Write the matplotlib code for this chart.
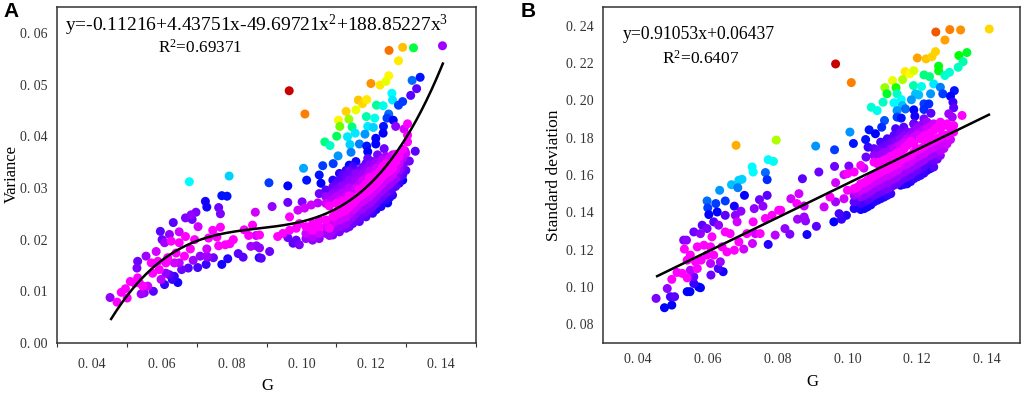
import numpy as np
import matplotlib
matplotlib.use('Agg')
import matplotlib.pyplot as plt
from matplotlib.colors import LinearSegmentedColormap

plt.rcParams['font.family'] = ['Liberation Serif', 'DejaVu Serif']
plt.rcParams['mathtext.default'] = 'regular'

# panel A, G / variance / colour hue in degrees
a_g = [.0452,.0472,.0484,.0501,.0496,.0510,.0522,.0531,.0536,.0546,
       .0541,.0550,.0560,.0576,.0529,.0531,.0555,.0584,.0570,.0589,
       .0574,.0593,.0612,.0598,.0608,.0622,.0636,.0646,.0630,.0612,
       .0596,.0601,.0622,.0608,.0627,.0650,.0633,.0668,.0684,.0698,
       .0687,.0725,.0729,.0763,.0768,.0772,.0787,.0679,.0793,.0704,
       .0668,.0650,.0694,.0682,.0746,.0734,.0768,.0758,.0763,.0782,
       .0795,.0805,.0729,.0729,.0710,.0731,.0748,.0727,.0772,.0789,
       .0819,.0833,.0703,.0676,.0657,.0690,.0665,.0641,.0636,.0650,
       .0617,.0836,.0849,.0860,.0868,.0870,.0855,.0871,.0879]
a_var = [.0088,.0079,.0098,.0087,.0105,.0119,.0116,.0126,.0116,.0110,
         .0095,.0097,.0110,.0100,.0145,.0158,.0168,.0177,.0155,.0158,
         .0135,.0142,.0155,.0123,.0113,.0132,.0129,.0117,.0123,.0135,
         .0216,.0200,.0210,.0194,.0197,.0215,.0233,.0242,.0248,.0253,
         .0239,.0274,.0263,.0262,.0250,.0285,.0284,.0312,.0323,.0225,
         .0206,.0194,.0200,.0182,.0218,.0203,.0224,.0205,.0188,.0190,
         .0192,.0200,.0182,.0168,.0168,.0166,.0165,.0152,.0152,.0163,
         .0173,.0166,.0146,.0145,.0142,.0160,.0168,.0174,.0155,.0155,
         .0165,.0219,.0208,.0228,.0253,.0208,.0187,.0188,.0165]
a_hue = [280,300,300,300,300,300,300,300,300,300,
         285,280,295,265,275,270,285,295,300,300,
         300,300,300,290,255,265,255,245,255,280,
         265,270,280,285,300,295,265,275,280,275,
         270,245,245,270,275,235,235,180,190,295,
         300,300,300,300,300,300,300,300,300,300,
         300,300,295,285,280,275,270,255,245,250,
         265,265,260,265,270,285,300,300,295,290,
         300,300,300,300,295,295,285,280,250]

# panel A, scattered points above the main cloud
a_top_g = [.0965,.1010,.1251,.1290,.1321,.1404,.1278,.1250,.1242,.1225,
           .1199,.1317,.1340,.1330,.1313,.1290,.1278,.1259,.1261,.1163,
           .1187,.1175,.1215,.1234,.1128,.1156,.1106,.1136,.1110,.1145,
           .1186,.1210,.1101,.1067,.1082,.1132,.1154,.1190,.1206,.1182,
           .1139,.1166,.1142,.1105,.1250,.1245,.1263,.1235,.1234,.1213,
           .1213,.1187,.1190,.1237,.1218,.1190,.1270,.1294,.1304,.1304,
           .1304,.1296,.1326,.1309,.1006,.1015,.0961,.0907,.1051,.1061,
           .1091,.1137,.1156,.1056,.1290,.1247,.1228,.0961,.1002,.0916,
           .1051,.0966]
a_top_var = [.0488,.0443,.0566,.0572,.0571,.0575,.0546,.0517,.0506,.0499,
             .0502,.0508,.0514,.0492,.0479,.0467,.0460,.0483,.0470,.0470,
             .0471,.0463,.0460,.0459,.0448,.0451,.0431,.0433,.0419,.0418,
             .0438,.0435,.0400,.0389,.0382,.0399,.0406,.0419,.0417,.0404,
             .0384,.0385,.0369,.0362,.0443,.0435,.0431,.0419,.0406,.0396,
             .0385,.0381,.0370,.0376,.0364,.0357,.0419,.0414,.0424,.0402,
             .0389,.0372,.0371,.0352,.0338,.0315,.0304,.0310,.0325,.0343,
             .0347,.0344,.0351,.0309,.0315,.0271,.0264,.0272,.0273,.0264,
             .0289,.0244]
a_top_hue = [0,30,28,45,135,285,55,58,65,55,
             35,215,235,265,265,225,225,180,185,47,
             55,52,155,175,50,65,58,85,95,150,
             160,175,140,150,165,185,185,185,190,205,
             190,210,210,205,215,225,240,235,240,240,
             240,235,240,270,275,270,280,295,300,300,
             300,290,265,270,200,235,240,225,235,225,
             225,240,245,240,240,240,250,270,275,280,
             270,300]

# panel A, dense cloud read column by column
a_up_g = [.1070]*3 + [.1090]*4 + [.1109]*6 + [.1128]*6 + [.1147]*5 + [.1166]*4 + [.1185]*4 + [.1204]*4 + [.1223]*3 + [.1242]*3 + [.1261]*2
a_up_var = [.0296,.0283,.0270, .0315,.0302,.0290,.0277, .0328,.0315,.0302,.0290,.0277,.0264,
            .0334,.0321,.0308,.0296,.0283,.0270, .0341,.0321,.0308,.0296,.0283, .0334,.0321,.0308,.0296,
            .0347,.0334,.0321,.0308, .0351,.0338,.0325,.0315, .0357,.0344,.0331, .0361,.0347,.0334, .0364,.0351]
a_up_hue = [265,285,295, 250,270,280,290, 250,265,275,285,295,300,
            255,270,275,285,295,300, 260,275,280,290,300, 270,280,290,300,
            265,280,290,300, 270,285,295,300, 275,290,300, 285,300,300, 295,300]

a_low_g = [.1013]*3 + [.1032]*4 + [.1051]*4 + [.1070]*3 + [.1090]*4 + [.1109]*4 + [.1128]*4 + [.1147]*4 + [.1166]*5 + [.1185]*5 + [.1204]*5 + [.1223]*5 + [.1242]*5 + [.1261]*5 + [.1280]*5 + [.1299]*3
a_low_var = [.0225,.0212,.0202, .0231,.0218,.0206,.0199, .0238,.0225,.0212,.0202, .0238,.0225,.0212,
             .0244,.0231,.0218,.0209, .0251,.0238,.0225,.0215, .0257,.0244,.0231,.0222, .0270,.0257,.0244,.0231,
             .0283,.0270,.0257,.0244,.0235, .0293,.0280,.0267,.0254,.0244, .0302,.0290,.0277,.0264,.0251,
             .0315,.0302,.0290,.0277,.0264, .0328,.0315,.0302,.0290,.0277, .0338,.0325,.0312,.0299,.0286,
             .0361,.0347,.0334,.0321,.0309, .0367,.0351,.0334]
a_low_hue = [300,295,285, 300,300,290,280, 300,300,295,280, 300,295,285,
             300,295,285,275, 300,295,285,275, 300,295,285,275, 300,295,285,270,
             300,295,285,270,265, 300,295,285,275,265, 300,295,285,275,255,
             300,295,285,270,250, 300,295,285,275,255, 300,295,280,265,255,
             300,295,285,270,255, 295,275,265]

a_mid_g = [.1080]*4 + [.1100]*7 + [.1118]*7 + [.1137]*8 + [.1156]*7 + [.1175]*8 + [.1195]*7 + [.1214]*8 + [.1232]*6 + [.1252]*7 + [.1270]*5 + [.1290]*4
a_mid_var = [.0283,.0265,.0222,.0208, .0309,.0296,.0283,.0270,.0250,.0237,.0224,
             .0325,.0305,.0290,.0275,.0254,.0241,.0226, .0332,.0315,.0300,.0285,.0264,.0250,.0237,.0225,
             .0328,.0315,.0300,.0276,.0263,.0250,.0238, .0340,.0327,.0314,.0300,.0287,.0274,.0260,.0248,
             .0345,.0332,.0320,.0296,.0283,.0270,.0258, .0350,.0338,.0325,.0308,.0296,.0283,.0270,.0258,
             .0355,.0340,.0322,.0308,.0296,.0283, .0358,.0345,.0332,.0320,.0306,.0293,.0281,
             .0365,.0350,.0335,.0318,.0303, .0375,.0358,.0340,.0325]
a_mid_hue = [285,300,300,285, 265,275,290,300,300,295,285,
             265,280,290,300,300,290,280, 270,280,290,300,300,290,280,270,
             280,285,295,300,295,280,270, 275,285,295,300,300,295,285,270,
             280,290,300,300,295,285,270, 285,295,300,300,295,285,270,250,
             290,300,300,295,285,270, 295,300,300,295,285,265,250,
             300,300,295,285,265, 300,290,275,265]

a_tail_g = [.0961,.0976,.0994,.0985,.0932,.0947,.0966,.0985,.0994,.0990,.1009,.1028,.1047,.0880,.0880,.0885,.0909]
a_tail_var = [.0204,.0193,.0190,.0199,.0206,.0212,.0218,.0222,.0231,.0257,.0261,.0267,.0271,.0209,.0184,.0164,.0177]
a_tail_hue = [270,265,275,268,300,300,300,300,300,295,295,295,290,300,280,265,270]

# panel B, G / standard deviation / colour hue
b_g = [.0452,.0476,.0497,.0493,.0505,.0484,.0497,.0541,.0549,.0574,
       .0579,.0560,.0560,.0512,.0527,.0541,.0550,.0570,.0565,.0541,
       .0550,.0581,.0598,.0608,.0609,.0630,.0644,.0636,.0617,.0655,
       .0676,.0703,.0689,.0641,.0608,.0589,.0570,.0533,.0539,.0531,
       .0560,.0584,.0598,.0579,.0617,.0631,.0650,.0664,.0612,.0728,
       .0736,.0750,.0712,.0730,.0684,.0679,.0695,.0650,.0676,.0650,
       .0623,.0627,.0598,.0600,.0603,.0634,.0668,.0686,.0689,.0698,
       .0705,.0681,.0727,.0730,.0765,.0770,.0773,.0788,.0796,.0770,
       .0748,.0733,.0758,.0765,.0784,.0803,.0773,.0793]
b_sd = [.0939,.0889,.0903,.0948,.0948,.0992,.1041,.0975,.0975,.1000,
        .0996,.1019,.1055,.1078,.1073,.1049,.1090,.1099,.1135,.1144,
        .1171,.1144,.1171,.1126,.1064,.1099,.1082,.1135,.1171,.1188,
        .1197,.1203,.1242,.1215,.1215,.1224,.1215,.1203,.1251,.1251,
        .1295,.1331,.1313,.1286,.1349,.1331,.1295,.1286,.1269,.1233,
        .1286,.1286,.1286,.1349,.1349,.1384,.1406,.1384,.1433,.1461,
        .1447,.1402,.1461,.1424,.1388,.1518,.1548,.1532,.1572,.1577,
        .1491,.1759,.1643,.1616,.1613,.1575,.1682,.1673,.1787,.1491,
        .1468,.1420,.1433,.1367,.1384,.1411,.1228,.1278]
b_hue = [275,240,240,260,265,280,300,240,240,240,
         240,255,270,300,300,300,290,300,300,300,
         300,300,300,290,270,260,245,285,300,300,
         300,295,300,300,300,300,300,300,280,275,
         270,265,275,280,265,280,300,300,300,295,
         295,300,300,300,295,280,280,265,245,225,
         225,240,215,225,240,205,195,210,190,190,
         240,42,180,180,215,230,180,175,80,265,
         270,280,280,300,300,300,250,290]

b_top_g = [.0966,.1011,.1253,.1293,.1324,.1406,.1279,.1252,.1242,.1225,
           .1200,.1165,.1190,.1179,.1129,.1158,.1107,.1139,.1113,.1261,
           .1261,.1319,.1342,.1331,.1317,.1292,.1279,.1219,.1235,.1189,
           .1212,.1247,.1142,.1102,.1068,.1085,.1133,.1154,.1157,.1142,
           .1195,.1204,.1238,.1266,.1273,.1183,.1166,.1306,.1295,.1302,
           .1304,.1219,.1233,.1219,.1190,.1193,.1142,.1154,.1239,.1219,
           .1190,.1290,.1300,.1328,.1106,.1098,.1062,.1052,.1080,.1007,
           .1017,.0909,.0963,.1138,.1161,.1059,.1053,.1004,.0963,.0918,
           .0871,.0990,.0966,.1047,.0861,.0838,.0855,.0876,.0809,.0933,
           .0950,.0990,.0966,.0857,.0876,.0880,.0821,.0835,.0884,.0911,
           .0961,.0976,.0997,.0983]
b_top_sd = [.2195,.2095,.2366,.2379,.2377,.2382,.2323,.2261,.2234,.2222,
            .2227,.2154,.2159,.2142,.2106,.2111,.2068,.2068,.2035,.2183,
            .2158,.2240,.2256,.2207,.2177,.2150,.2133,.2136,.2127,.2079,
            .2074,.2088,.2035,.1990,.1963,.1945,.1987,.2004,.1972,.1945,
            .2035,.2029,.2035,.2070,.2035,.2003,.1954,.2052,.2022,.1990,
            .1960,.1981,.1981,.1951,.1949,.1915,.1910,.1905,.1931,.1901,
            .1874,.1928,.1910,.1919,.1892,.1856,.1842,.1790,.1821,.1830,
            .1769,.1755,.1735,.1848,.1856,.1749,.1696,.1648,.1646,.1616,
            .1580,.1602,.1559,.1637,.1500,.1473,.1447,.1434,.1411,.1429,
            .1482,.1473,.1456,.1363,.1375,.1354,.1313,.1283,.1281,.1325,
            .1349,.1393,.1384,.1363]
b_top_hue = [0,30,22,30,35,52,38,50,50,47,
             38,55,70,60,65,80,85,115,130,125,
             125,120,130,160,165,170,170,150,150,160,
             175,185,165,165,170,175,180,180,195,205,
             195,195,205,210,225,205,215,235,240,255,
             265,225,230,230,240,245,225,235,265,275,
             270,285,285,300,220,230,235,235,240,205,
             235,205,225,260,265,255,270,275,270,270,
             265,295,295,295,295,295,300,295,300,295,
             300,295,285,285,285,280,280,275,245,265,
             240,260,250,255]

b_up_g = [.1000,.1019,.1038] + [.1076]*3 + [.1095]*4 + [.1114]*4 + [.1133]*4 + [.1152]*4 + [.1171]*3 + [.1190]*4 + [.1209]*3 + [.1228]*3 + [.1247]*2 + [.1266]*2 + [.1285,.1304]
b_up_sd = [.1607,.1616,.1651, .1741,.1705,.1669, .1776,.1741,.1705,.1669, .1794,.1758,.1723,.1687,
           .1812,.1776,.1741,.1705, .1830,.1794,.1758,.1723, .1830,.1794,.1758, .1874,.1838,.1803,.1767,
           .1865,.1830,.1794, .1883,.1848,.1812, .1874,.1838, .1883,.1848, .1874,.1865]
b_up_hue = [300,300,300, 265,280,300, 260,270,285,300, 260,270,285,300,
            265,275,290,300, 270,280,295,300, 275,290,300, 270,280,295,300,
            280,290,300, 285,295,300, 295,300, 300,300, 300,300]

b_low_g = [.1000] + [.1019]*4 + [.1038]*5 + [.1057]*5 + [.1076]*5 + [.1095]*5 + [.1114]*5 + [.1133]*4 + [.1152]*5 + [.1171]*5 + [.1190]*5 + [.1209]*5 + [.1228]*5 + [.1247]*5 + [.1266]*4 + [.1285]*2 + [.1304]
b_low_sd = [.1518, .1527,.1491,.1456,.1420, .1553,.1518,.1482,.1447,.1415, .1571,.1536,.1500,.1465,.1429,
            .1598,.1562,.1527,.1491,.1456, .1616,.1580,.1545,.1509,.1473, .1634,.1598,.1562,.1527,.1491,
            .1651,.1616,.1580,.1545, .1678,.1643,.1607,.1571,.1545, .1696,.1660,.1625,.1589,.1553,
            .1723,.1687,.1651,.1616,.1580, .1741,.1705,.1669,.1634,.1598, .1767,.1732,.1696,.1660,.1625,
            .1785,.1749,.1714,.1678,.1643, .1803,.1767,.1732,.1705, .1812,.1767, .1830]
b_low_hue = [300, 300,285,265,250, 300,295,280,260,245, 300,295,280,265,245,
             300,295,285,270,250, 300,295,285,270,250, 300,295,285,275,255,
             300,295,285,270, 300,295,285,270,245, 300,295,285,270,250,
             300,295,285,270,255, 300,295,285,265,255, 300,295,285,265,250,
             300,295,285,270,265, 300,295,290,280, 300,295, 300]

b_mid_g = [.1029]*4 + [.1048]*5 + [.1067]*5 + [.1086]*7 + [.1105]*8 + [.1124]*8 + [.1143]*7 + [.1162]*8 + [.1181]*7 + [.1200]*7 + [.1219]*7 + [.1238]*7 + [.1257]*5 + [.1276]*4 + [.1295]*2
b_mid_sd = [.1535,.1505,.1470,.1435, .1560,.1525,.1490,.1455,.1420, .1585,.1550,.1515,.1478,.1440,
            .1660,.1605,.1570,.1535,.1500,.1465,.1730, .1760,.1720,.1680,.1625,.1590,.1555,.1518,.1482,
            .1775,.1740,.1700,.1640,.1606,.1572,.1535,.1500, .1790,.1755,.1720,.1660,.1625,.1590,.1555,
            .1810,.1775,.1740,.1690,.1652,.1615,.1580,.1550, .1815,.1780,.1705,.1670,.1635,.1600,.1565,
            .1850,.1815,.1735,.1698,.1660,.1625,.1590, .1845,.1810,.1752,.1715,.1680,.1645,.1610,
            .1860,.1825,.1775,.1740,.1705,.1670,.1635, .1855,.1795,.1758,.1722,.1685,
            .1865,.1815,.1780,.1742, .1850,.1790]
b_mid_hue = [300,290,265,250, 300,295,280,260,245, 300,295,285,265,245,
             300,300,295,285,270,250,275, 265,285,300,300,295,285,270,250,
             270,285,300,300,295,285,270,255, 275,290,300,300,295,285,270,
             280,295,300,300,295,285,265,250, 285,300,300,295,285,270,250,
             285,295,300,295,285,270,255, 290,300,300,295,285,265,255,
             295,300,300,295,285,265,250, 300,300,295,285,270,
             300,300,295,290, 300,295]

# fit lines, coefficients as printed on the chart
a_coef = [188.85227, -49.69721, 4.43751, -0.11216]
b_coef = [0.91053, 0.06437]
fit_range = [0.0455, 0.1405]

x_labels = ['0. 04', '0. 06', '0. 08', '0. 10', '0. 12', '0. 14']
x_ticks = [0.04, 0.06, 0.08, 0.10, 0.12, 0.14]
a_y_ticks = [0.0, 0.01, 0.02, 0.03, 0.04, 0.05, 0.06]
a_y_labels = ['0. 00', '0. 01', '0. 02', '0. 03', '0. 04', '0. 05', '0. 06']
b_y_ticks = [0.08, 0.10, 0.12, 0.14, 0.16, 0.18, 0.20, 0.22, 0.24]
b_y_labels = ['0. 08', '0. 10', '0. 12', '0. 14', '0. 16', '0. 18', '0. 20', '0. 22', '0. 24']

# rainbow that starts from a dark red, hue in degrees; purple kept wide before magenta
rainbow = LinearSegmentedColormap.from_list('rainbow_dark', [
    (0.0, '#c80000'), (30 / 360, '#ff8000'), (60 / 360, '#ffff00'), (120 / 360, '#00ff00'),
    (180 / 360, '#00ffff'), (240 / 360, '#0000ff'), (285 / 360, '#a000ff'), (295 / 360, '#d000ff'),
    (300 / 360, '#ff00ff'), (1.0, '#ff00ff')])


def draw(ax, g, y, hue):
    g, y, hue = np.array(g), np.array(y), np.array(hue)
    order = np.argsort(hue, kind='stable')  # magenta ends up on top
    ax.scatter(g[order], y[order], c=hue[order], cmap=rainbow, vmin=0, vmax=360, s=42, linewidths=0)


def style(ax):
    for s in ax.spines.values():
        s.set_linewidth(1.1)
        s.set_color('#333333')
    ax.set_xticks(x_ticks)
    ax.set_xticklabels(x_labels)
    ax.tick_params(axis='both', labelsize=10, colors='#333333', length=0)
    ax.tick_params(axis='y', pad=7)


W, H = 1024, 393
fig = plt.figure(figsize=(W / 100, H / 100), dpi=100)
ax1 = fig.add_axes([57 / W, (H - 343) / H, 419 / W, 336 / H])
ax2 = fig.add_axes([603 / W, (H - 343) / H, 417 / W, 336 / H])

draw(ax1, a_g + a_top_g + a_up_g + a_low_g + a_mid_g + a_tail_g,
     a_var + a_top_var + a_up_var + a_low_var + a_mid_var + a_tail_var,
     a_hue + a_top_hue + a_up_hue + a_low_hue + a_mid_hue + a_tail_hue)
xs = np.linspace(fit_range[0], fit_range[1], 200)
ax1.plot(xs, np.polyval(a_coef, xs), color='black', lw=1.8)
ax1.set_xlim(0.03, 0.15)
ax1.set_ylim(0, 0.065)
style(ax1)
ax1.tick_params(axis='x', pad=11)
ax1.set_yticks(a_y_ticks)
ax1.set_yticklabels(a_y_labels)
ax1.set_xticks(np.arange(0.03, 0.151, 0.01), minor=True)
ax1.tick_params(axis='x', which='minor', length=3, width=0.8, color='#333333')
ax1.set_xlabel('G', fontsize=12)
ax1.xaxis.set_label_coords((267 - 57) / 419, -0.104)
ax1.set_ylabel('Variance', fontsize=12)
ax1.yaxis.set_label_coords(-0.088, 0.503)
ax1.text(0.019, 0.946, 'y=-0.11216+4.43751x-49.69721x$^{2}$+188.85227x$^{3}$', transform=ax1.transAxes,
         fontsize=14, va='center')
ax1.text(0.241, 0.878, 'R$^{2}$=0.69371', transform=ax1.transAxes, fontsize=12.3, va='center')

draw(ax2, b_g + b_top_g + b_up_g + b_low_g + b_mid_g,
     b_sd + b_top_sd + b_up_sd + b_low_sd + b_mid_sd,
     b_hue + b_top_hue + b_up_hue + b_low_hue + b_mid_hue)
ax2.plot(fit_range, np.polyval(b_coef, fit_range), color='black', lw=1.8)
ax2.set_xlim(0.03, 0.1494)
ax2.set_ylim(0.07, 0.25)
style(ax2)
ax2.tick_params(axis='x', pad=7)
ax2.set_yticks(b_y_ticks)
ax2.set_yticklabels(b_y_labels)
ax2.set_xlabel('G', fontsize=12)
ax2.xaxis.set_label_coords((812 - 603) / 417, -0.091)
ax2.set_ylabel('Standard deviation', fontsize=12.5)
ax2.yaxis.set_label_coords(-0.098, 0.5)
ax2.text(0.048, 0.917, 'y=0.91053x+0.06437', transform=ax2.transAxes, fontsize=12.7, va='center')
ax2.text(0.1415, 0.845, 'R$^{2}$=0.6407', transform=ax2.transAxes, fontsize=12.5, va='center')

fig.text(3 / W, 1 - 17 / H, 'A', fontsize=15, fontweight='bold', family='Liberation Sans')
fig.text(521 / W, 1 - 17 / H, 'B', fontsize=15, fontweight='bold', family='Liberation Sans')

fig.savefig('out.png', dpi=100)
